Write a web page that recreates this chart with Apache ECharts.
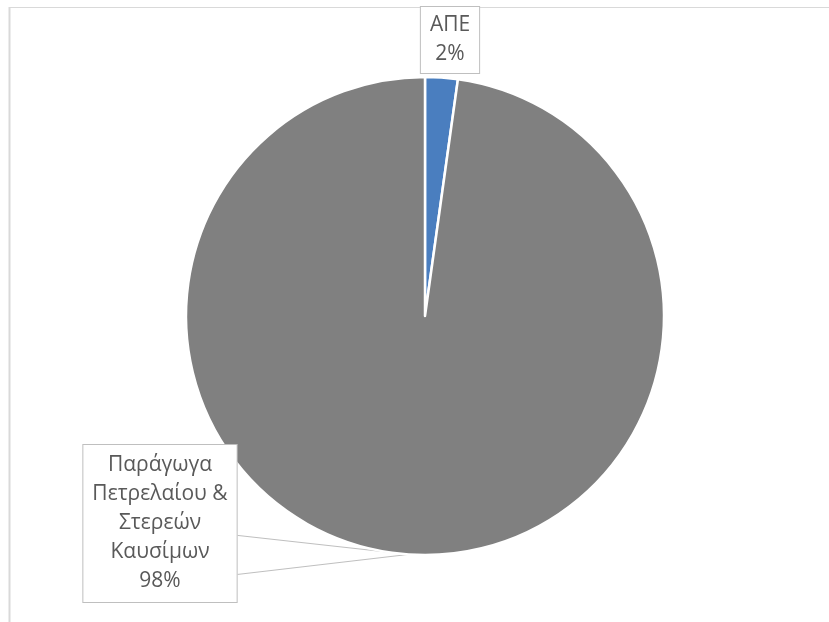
<!DOCTYPE html>
<html>
<head>
<meta charset="utf-8">
<script src="https://cdn.jsdelivr.net/npm/echarts@6/dist/echarts.min.js"></script>
<style>html,body{margin:0;padding:0;background:#fff}#c{width:829px;height:622px}</style>
</head>
<body>
<div id="c"></div>
<script>
const categories = ['ΑΠΕ', 'Παράγωγα\nΠετρελαίου &\nΣτερεών\nΚαυσίμων'];
const values = [2.2, 97.8];
const colors = ['#4a7ebf', '#808080'];

const chart = echarts.init(document.getElementById('c'), null, {renderer: 'canvas'});
const labelPos = [{x: 450, y: 40}, {x: 160, y: 523.5}];
const labelPad = [[4, 9, 4, 9], [6, 9, 6, 9]];
chart.setOption({
  backgroundColor: '#ffffff',
  animation: false,
  graphic: [
    {type: 'line', shape: {x1: 9.5, y1: 7, x2: 9.5, y2: 622}, style: {stroke: '#d9d9d9', lineWidth: 2}, silent: true},
    {type: 'line', shape: {x1: 9, y1: 7.5, x2: 829, y2: 7.5}, style: {stroke: '#d9d9d9', lineWidth: 1}, silent: true}
  ],
  series: [{
    type: 'pie',
    center: [425, 316],
    radius: 239,
    startAngle: 90,
    clockwise: true,
    avoidLabelOverlap: false,
    itemStyle: {borderColor: '#ffffff', borderWidth: 2.5},
    label: {
      show: true,
      position: 'outside',
      formatter: p => p.name + '\n' + Math.round(p.percent) + '%',
      color: '#595959',
      fontFamily: 'Open Sans',
      fontSize: 21,
      lineHeight: 29,
      align: 'center',
      backgroundColor: '#ffffff',
      borderColor: '#bfbfbf',
      borderWidth: 1
    },
    labelLine: {show: true, length: 5, length2: 5, lineStyle: {color: '#bfbfbf', width: 1}},
    labelLayout: function (params) {
      const p = labelPos[params.dataIndex];
      const out = {x: p.x, y: p.y, align: 'center', verticalAlign: 'middle'};
      if (params.dataIndex === 1 && params.labelLinePoints) {
        const a = params.labelLinePoints[0];
        const right = p.x + params.labelRect.width / 2;
        out.labelLinePoints = [[right, a[1] - 19], [a[0], a[1]], [right, a[1] + 20]];
      }
      return out;
    },
    data: categories.map((n, i) => ({
      name: n, value: values[i], itemStyle: {color: colors[i]},
      label: {padding: labelPad[i]},
      labelLine: {show: i === 1}
    }))
  }]
});
</script>
</body>
</html>
